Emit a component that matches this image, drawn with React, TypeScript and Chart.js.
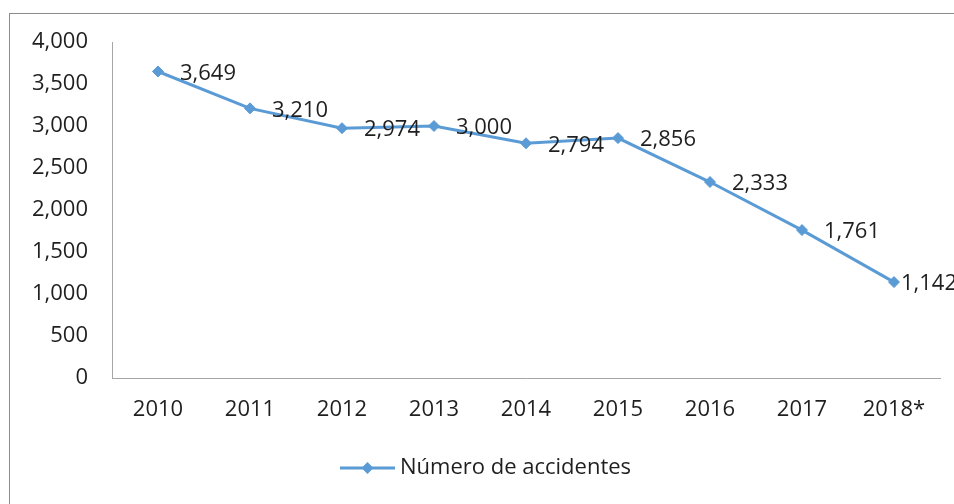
import React, { useEffect, useRef } from "react";
import { Chart, registerables } from "chart.js";

Chart.register(...registerables);

const categories = ["2010", "2011", "2012", "2013", "2014", "2015", "2016", "2017", "2018*"];
const accidentes = [3649, 3210, 2974, 3000, 2794, 2856, 2333, 1761, 1142];
const seriesLabel = "Número de accidentes";
const yTicks = [0, 500, 1000, 1500, 2000, 2500, 3000, 3500, 4000];

const LINE = "#5B9BD5";
const TEXT = "#1f1f1f";
const FONT_FAMILY = "'Open Sans', 'Noto Sans', sans-serif";
const FONT_SIZE = 22;

const framePlugin = {
  id: "frame",
  beforeDraw(chart: any) {
    const ctx = chart.ctx;
    ctx.save();
    ctx.fillStyle = "#ffffff";
    ctx.fillRect(0, 0, chart.width, chart.height);
    ctx.strokeStyle = "#8c8c8c";
    ctx.lineWidth = 1;
    ctx.strokeRect(9.5, 13.5, 3000, 3000);
    ctx.restore();
  },
};

const labelsPlugin = {
  id: "pointLabels",
  afterDatasetsDraw(chart: any) {
    const ctx = chart.ctx;
    const meta = chart.getDatasetMeta(0);
    const data = chart.data.datasets[0].data as number[];
    ctx.save();
    ctx.font = `${FONT_SIZE}px ${FONT_FAMILY}`;
    ctx.fillStyle = TEXT;
    ctx.textAlign = "left";
    ctx.textBaseline = "middle";
    const last = meta.data.length - 1;
    meta.data.forEach((pt: any, i: number) => {
      const dx = i === last ? 7 : 22;
      ctx.fillText(data[i].toLocaleString("en-US"), pt.x + dx, pt.y + 2);
    });
    ctx.restore();
  },
};

const legendPlugin = {
  id: "customLegend",
  afterDraw(chart: any) {
    const ctx = chart.ctx;
    const ds = chart.data.datasets[0];
    const y = 468;
    const x0 = 340;
    const x1 = 395;
    ctx.save();
    ctx.strokeStyle = ds.borderColor;
    ctx.lineWidth = 3;
    ctx.beginPath();
    ctx.moveTo(x0, y);
    ctx.lineTo(x1, y);
    ctx.stroke();
    const cx = (x0 + x1) / 2;
    const r = 6;
    ctx.fillStyle = ds.pointBackgroundColor;
    ctx.beginPath();
    ctx.moveTo(cx - r, y);
    ctx.lineTo(cx, y - r);
    ctx.lineTo(cx + r, y);
    ctx.lineTo(cx, y + r);
    ctx.closePath();
    ctx.fill();
    ctx.font = `${FONT_SIZE}px ${FONT_FAMILY}`;
    ctx.fillStyle = TEXT;
    ctx.textAlign = "left";
    ctx.textBaseline = "middle";
    ctx.fillText(ds.label, x1 + 5, y);
    ctx.restore();
  },
};

export default function App() {
  const ref = useRef<HTMLCanvasElement | null>(null);

  useEffect(() => {
    if (!ref.current) return;
    const chart = new Chart(ref.current, {
      type: "line",
      data: {
        labels: categories,
        datasets: [
          {
            label: seriesLabel,
            data: accidentes,
            borderColor: LINE,
            backgroundColor: LINE,
            pointBackgroundColor: LINE,
            pointBorderColor: LINE,
            borderWidth: 3,
            pointStyle: "rectRot",
            pointRadius: 5.5,
            pointBorderWidth: 1,
            tension: 0,
          },
        ],
      },
      options: {
        responsive: false,
        animation: false,
        events: [],
        layout: { padding: { top: 42, right: 14, bottom: 0, left: 0 } },
        plugins: {
          legend: { display: false },
          tooltip: { enabled: false },
        },
        scales: {
          x: {
            offset: true,
            grid: { display: false, drawTicks: false },
            border: { display: true, color: "#a6a6a6", width: 1 },
            ticks: {
              color: TEXT,
              padding: 19,
              font: { family: FONT_FAMILY, size: FONT_SIZE },
              maxRotation: 0,
            },
            afterFit(scale: any) {
              scale.height = 126;
            },
          },
          y: {
            min: 0,
            max: 4000,
            afterBuildTicks(scale: any) {
              scale.ticks = yTicks.map((v) => ({ value: v }));
            },
            grid: { display: false, drawTicks: false },
            border: { display: true, color: "#a6a6a6", width: 1 },
            ticks: {
              color: TEXT,
              padding: 24,
              font: { family: FONT_FAMILY, size: FONT_SIZE },
              callback: (v: any) => Number(v).toLocaleString("en-US"),
            },
            afterFit(scale: any) {
              scale.width = 112;
            },
          },
        },
      },
      plugins: [framePlugin, labelsPlugin, legendPlugin],
    });
    return () => chart.destroy();
  }, []);

  return (
    <div style={{ position: "fixed", left: 0, top: 0, width: 954, height: 504, overflow: "hidden", background: "#fff" }}>
      <canvas ref={ref} width={954} height={504} style={{ display: "block", width: 954, height: 504 }} />
    </div>
  );
}
